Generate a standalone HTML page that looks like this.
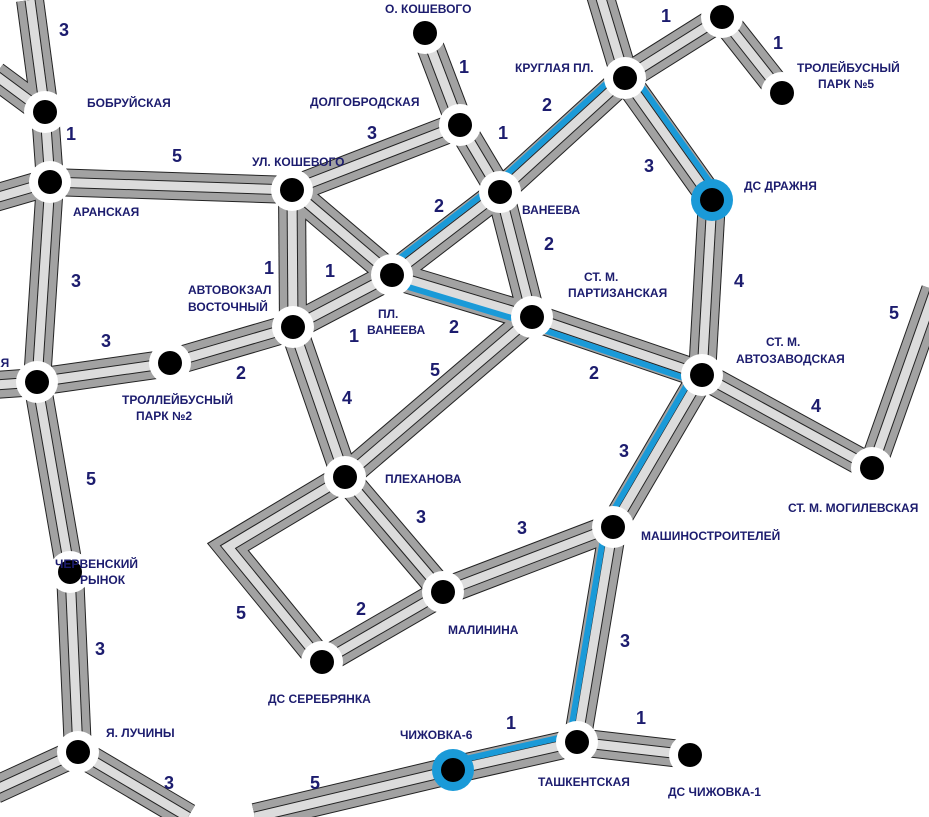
<!DOCTYPE html>
<html><head><meta charset="utf-8"><style>
html,body{margin:0;padding:0;background:#fff;width:929px;height:817px;overflow:hidden}
svg text{font-family:"Liberation Sans",sans-serif;fill:#1c1c6e;font-weight:bold}
.n{font-size:12px}.d{font-size:18px}
</style></head><body>
<svg id="s" width="929" height="817" viewBox="0 0 929 817" xmlns="http://www.w3.org/2000/svg">
<g id="roads"></g><g id="blue"></g><g id="nodes"></g>
<g class="n">
<text x="87" y="107">БОБРУЙСКАЯ</text>
<text x="73" y="216">АРАНСКАЯ</text>
<text x="-8" y="367">АЯ</text>
<text x="55" y="568">ЧЕРВЕНСКИЙ</text>
<text x="80" y="584">РЫНОК</text>
<text x="106" y="737">Я. ЛУЧИНЫ</text>
<text x="252" y="166">УЛ. КОШЕВОГО</text>
<text x="385" y="13">О. КОШЕВОГО</text>
<text x="310" y="106">ДОЛГОБРОДСКАЯ</text>
<text x="515" y="72">КРУГЛАЯ ПЛ.</text>
<text x="797" y="72">ТРОЛЕЙБУСНЫЙ</text>
<text x="818" y="88">ПАРК №5</text>
<text x="744" y="190">ДС ДРАЖНЯ</text>
<text x="522" y="214">ВАНЕЕВА</text>
<text x="188" y="294">АВТОВОКЗАЛ</text>
<text x="188" y="311">ВОСТОЧНЫЙ</text>
<text x="378" y="318">ПЛ.</text>
<text x="367" y="334">ВАНЕЕВА</text>
<text x="584" y="281">СТ. М.</text>
<text x="568" y="297">ПАРТИЗАНСКАЯ</text>
<text x="766" y="346">СТ. М.</text>
<text x="736" y="363">АВТОЗАВОДСКАЯ</text>
<text x="122" y="404">ТРОЛЛЕЙБУСНЫЙ</text>
<text x="136" y="420">ПАРК №2</text>
<text x="385" y="483">ПЛЕХАНОВА</text>
<text x="788" y="512">СТ. М. МОГИЛЕВСКАЯ</text>
<text x="641" y="540">МАШИНОСТРОИТЕЛЕЙ</text>
<text x="448" y="634">МАЛИНИНА</text>
<text x="268" y="703">ДС СЕРЕБРЯНКА</text>
<text x="400" y="739">ЧИЖОВКА-6</text>
<text x="538" y="786">ТАШКЕНТСКАЯ</text>
<text x="668" y="796">ДС ЧИЖОВКА-1</text>
</g>
<g class="d">
<text x="59" y="36">3</text><text x="66" y="140">1</text><text x="172" y="162">5</text>
<text x="71" y="287">3</text><text x="101" y="347">3</text><text x="236" y="379">2</text>
<text x="86" y="485">5</text><text x="95" y="655">3</text><text x="164" y="789">3</text>
<text x="367" y="139">3</text><text x="459" y="73">1</text><text x="498" y="139">1</text>
<text x="264" y="274">1</text><text x="325" y="277">1</text><text x="349" y="342">1</text>
<text x="434" y="212">2</text><text x="542" y="111">2</text><text x="661" y="22">1</text>
<text x="773" y="49">1</text><text x="644" y="172">3</text><text x="734" y="287">4</text>
<text x="449" y="333">2</text><text x="544" y="250">2</text><text x="589" y="379">2</text>
<text x="811" y="412">4</text><text x="889" y="319">5</text><text x="619" y="457">3</text>
<text x="620" y="647">3</text><text x="506" y="729">1</text><text x="310" y="789">5</text>
<text x="636" y="724">1</text><text x="342" y="404">4</text><text x="430" y="376">5</text>
<text x="416" y="523">3</text><text x="517" y="534">3</text><text x="356" y="615">2</text>
<text x="236" y="619">5</text>
</g>
</svg>
<script>
var N={bob:[45,112],ara:[50,182],lm:[37,382],che:[70,572],ya:[78,752],kos:[292,190],ok:[425,33],dol:[460,125],van:[500,192],kru:[625,78],tr:[722,17],tp5:[782,93],dra:[712,200],pv:[392,275],avt:[293,327],tp2:[170,363],par:[532,317],az:[702,375],mog:[872,468],ple:[345,477],mas:[613,527],mal:[443,592],ser:[322,662],tas:[577,742],ch1:[690,755],ch6:[453,770]};
function P(p){return typeof p=="string"?N[p]:p}
var E=[[[30,0],"bob"],[[-5,75],"bob"],["bob","ara"],["ara",[-5,198]],["ara","kos"],["ara","lm"],["lm",[-5,385]],["lm","tp2"],["tp2","avt"],["lm","che"],["che","ya"],["ya",[188,817]],["ya",[-5,790]],["kos","dol"],["ok","dol"],["dol","van"],["kos","avt"],["kos","pv"],["avt","pv"],["pv","van"],["van","kru"],["kru",[600,-5]],["kru","tr"],["tr","tp5"],["kru","dra"],["dra","az"],["pv","par"],["van","par"],["par","az"],["az","mog"],["mog",[935,290]],["az","mas"],["mas","tas"],["tas","ch6"],["ch6",[255,817]],["tas","ch1"],["avt","ple"],["par","ple"],["ple","mal"],["mal","mas"],["mal","ser"]];
var ns="http://www.w3.org/2000/svg";
function L(g,a,b,c,w){var l=document.createElementNS(ns,"line");l.setAttribute("x1",a[0]);l.setAttribute("y1",a[1]);l.setAttribute("x2",b[0]);l.setAttribute("y2",b[1]);l.setAttribute("stroke",c);l.setAttribute("stroke-width",w);l.style.strokeWidth=w+"px";g.appendChild(l)}
function PL(g,pts,c,w){var l=document.createElementNS(ns,"polyline");l.setAttribute("points",pts.map(p=>p.join(",")).join(" "));l.setAttribute("stroke",c);l.setAttribute("stroke-width",w);l.style.strokeWidth=w+"px";l.setAttribute("fill","none");l.setAttribute("stroke-linejoin","miter");g.appendChild(l)}
var R=document.getElementById("roads"),B=document.getElementById("blue"),G=document.getElementById("nodes");
var layers=[["#222",28],["#a2a2a2",26],["#222",11],["#dcdcdc",9]];
var poly=[N.ple,[228,547],N.ser];
layers.forEach(function(s){E.forEach(function(e){L(R,P(e[0]),P(e[1]),s[0],s[1])});PL(R,poly,s[0],s[1])});
var BL=[["pv","van",-5,-7],["van","kru",-5,-7],["kru","dra",7,-5],["pv","par",3,8],["par","az",-3,8],["az","mas",-7,-4],["mas","tas",-8,0],["tas","ch6",-1,-8]];
BL.forEach(function(e){var a=P(e[0]),b=P(e[1]);L(B,[a[0]+e[2],a[1]+e[3]],[b[0]+e[2],b[1]+e[3]],"#1a9ad8",6)});
function C(p,r,f){var c=document.createElementNS(ns,"circle");c.setAttribute("cx",p[0]);c.setAttribute("cy",p[1]);c.setAttribute("r",r);c.setAttribute("fill",f);G.appendChild(c)}
for(var k in N){C(N[k],21,(k=="dra"||k=="ch6")?"#1a9ad8":"#fff");C(N[k],12,"#000")}
</script>
</body></html>
